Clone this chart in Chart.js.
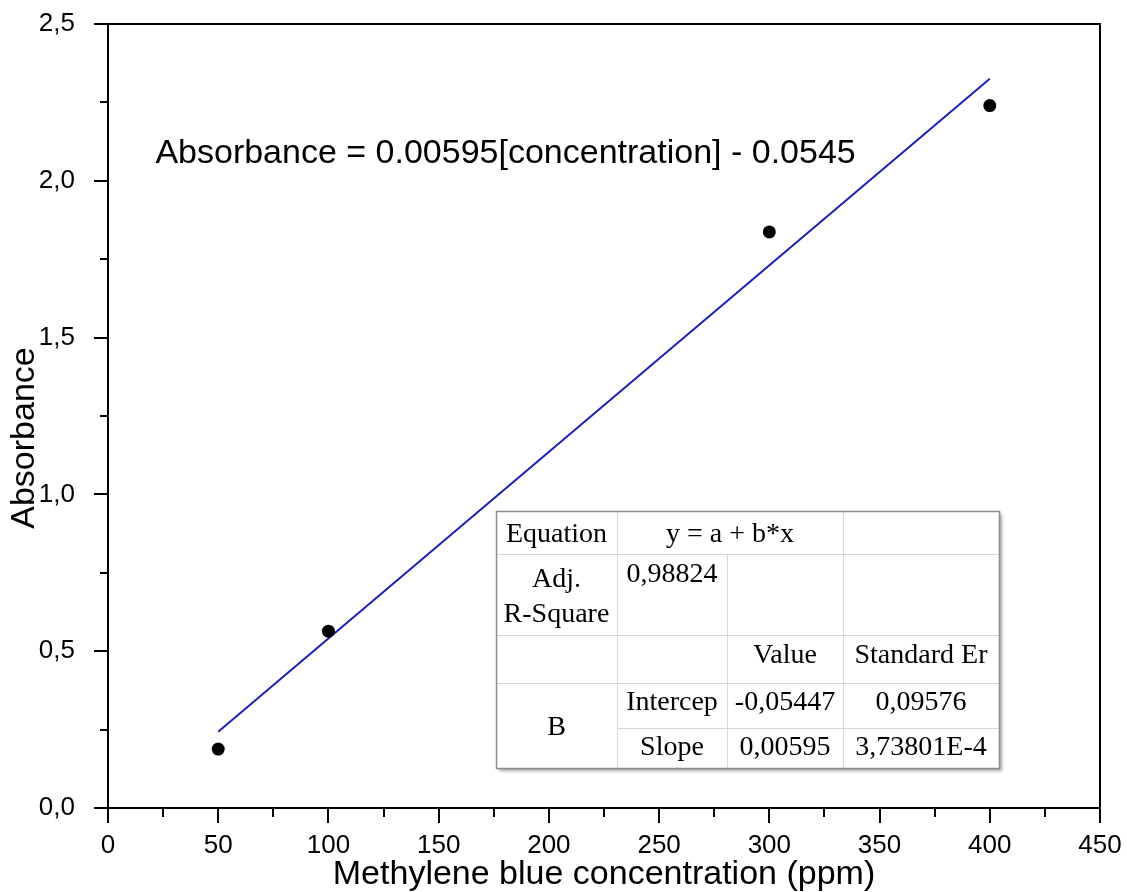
<!DOCTYPE html>
<html>
<head>
<meta charset="utf-8">
<script src="https://cdn.jsdelivr.net/npm/chart.js@4.4.0/dist/chart.umd.min.js"></script>
<style>
  html, body { margin: 0; padding: 0; background: #fff; }
  #wrap { width: 1127px; height: 892px; }
</style>
</head>
<body>
<div id="wrap"><canvas id="canvasOne"></canvas></div>
<script>
// measured calibration points
const concentration = [50, 100, 300, 400];
const absorbance = [0.188, 0.564, 1.837, 2.240];

// linear fit coefficients and the range it is drawn over
const fitSlope = 0.00595;
const fitIntercept = -0.0545;
const fitRange = [50, 400];

const xTickLabels = ['0', '50', '100', '150', '200', '250', '300', '350', '400', '450'];
const yTickLabels = ['0,0', '0,5', '1,0', '1,5', '2,0', '2,5'];

const fitText = 'Absorbance = 0.00595[concentration] - 0.0545';

// fit report table
const statsEquation = 'y = a + b*x';
const statsAdjR2 = '0,98824';
const statsHeader = ['Value', 'Standard Er'];
const statsTerms = ['Intercep', 'Slope'];
const statsValues = ['-0,05447', '0,00595'];
const statsErrors = ['0,09576', '3,73801E-4'];

var points = concentration.map(function(c, i) {
   return { x: c, y: absorbance[i] };
});
var fitLine = fitRange.map(function(c) {
   return { x: c, y: fitIntercept + fitSlope * c };
});

const SANS = '"Liberation Sans", Arial, sans-serif';
const SERIF = '"Liberation Serif", "Times New Roman", serif';

// keep the plot box fixed: no extra room reserved for end labels
function fixBox(scale) {
   scale.paddingLeft = 0;
   scale.paddingRight = 0;
   scale.paddingTop = 0;
   scale.paddingBottom = 0;
}

// frame, outward ticks (major + minor), y title, equation and fit table
var decorations = {
   id: 'decorations',
   afterDraw: function(chart) {
      var ctx = chart.ctx;
      var a = chart.chartArea;
      var xs = chart.scales.x, ys = chart.scales.y;
      ctx.save();

      ctx.strokeStyle = '#000';
      ctx.lineWidth = 2;
      ctx.strokeRect(a.left, a.top, a.right - a.left, a.bottom - a.top);

      ctx.beginPath();
      for (var v = xs.min; v <= xs.max + 1e-9; v += 25) {
         var px = Math.round(xs.getPixelForValue(v));
         var len = (Math.round(v) % 50 === 0) ? 15 : 9;
         ctx.moveTo(px, a.bottom);
         ctx.lineTo(px, a.bottom + len);
      }
      for (var w = ys.min; w <= ys.max + 1e-9; w += 0.25) {
         var py = Math.round(ys.getPixelForValue(w));
         var l2 = (Math.round(w * 100) % 50 === 0) ? 14 : 8;
         ctx.moveTo(a.left, py);
         ctx.lineTo(a.left - l2, py);
      }
      ctx.stroke();

      // y axis title
      ctx.save();
      ctx.translate(25, 438);
      ctx.rotate(-Math.PI / 2);
      ctx.fillStyle = '#000';
      ctx.font = '34px ' + SANS;
      ctx.textAlign = 'center';
      ctx.textBaseline = 'middle';
      ctx.fillText('Absorbance', 0, 0);
      ctx.restore();

      // equation label
      ctx.fillStyle = '#000';
      ctx.font = '34px ' + SANS;
      ctx.textAlign = 'left';
      ctx.textBaseline = 'alphabetic';
      ctx.fillText(fitText, xs.getPixelForValue(21.5), ys.getPixelForValue(2.057));

      // table
      var tx = Math.round(xs.getPixelForValue(176));
      var ty = Math.round(ys.getPixelForValue(0.947));
      var cx = [0, 121, 231, 347, 503].map(function(d) { return tx + d; });
      var ry = [0, 43, 124, 172, 217, 257].map(function(d) { return ty + d; });
      var W = cx[4] - cx[0], H = ry[5] - ry[0];

      ctx.save();
      ctx.shadowColor = 'rgba(0,0,0,0.35)';
      ctx.shadowOffsetX = 3;
      ctx.shadowOffsetY = 3;
      ctx.shadowBlur = 3;
      ctx.fillStyle = '#fff';
      ctx.fillRect(cx[0], ry[0], W, H);
      ctx.restore();

      ctx.strokeStyle = '#d6d6d6';
      ctx.lineWidth = 1;
      ctx.beginPath();
      ctx.moveTo(cx[1] + 0.5, ry[0]); ctx.lineTo(cx[1] + 0.5, ry[5]);
      ctx.moveTo(cx[2] + 0.5, ry[1]); ctx.lineTo(cx[2] + 0.5, ry[5]);
      ctx.moveTo(cx[3] + 0.5, ry[0]); ctx.lineTo(cx[3] + 0.5, ry[5]);
      ctx.moveTo(cx[0], ry[1] + 0.5); ctx.lineTo(cx[4], ry[1] + 0.5);
      ctx.moveTo(cx[0], ry[2] + 0.5); ctx.lineTo(cx[4], ry[2] + 0.5);
      ctx.moveTo(cx[0], ry[3] + 0.5); ctx.lineTo(cx[4], ry[3] + 0.5);
      ctx.moveTo(cx[1], ry[4] + 0.5); ctx.lineTo(cx[4], ry[4] + 0.5);
      ctx.stroke();

      ctx.strokeStyle = '#8c8c8c';
      ctx.lineWidth = 1.5;
      ctx.strokeRect(cx[0] + 0.5, ry[0] + 0.5, W, H);

      ctx.fillStyle = '#000';
      ctx.font = '28px ' + SERIF;
      ctx.textAlign = 'center';
      ctx.textBaseline = 'alphabetic';
      function mid(i, j) { return (cx[i] + cx[j]) / 2; }
      ctx.fillText('Equation', mid(0, 1), ty + 31);
      ctx.fillText(statsEquation, mid(1, 3), ty + 31);
      ctx.fillText('Adj.', mid(0, 1), ty + 76);
      ctx.fillText('R-Square', mid(0, 1), ty + 111);
      ctx.fillText(statsAdjR2, mid(1, 2), ty + 71);
      ctx.fillText(statsHeader[0], mid(2, 3), ty + 152);
      ctx.fillText(statsHeader[1], mid(3, 4), ty + 152);
      ctx.fillText('B', mid(0, 1), ty + 224);
      for (var r = 0; r < 2; r++) {
         var by = ty + (r === 0 ? 199 : 244);
         ctx.fillText(statsTerms[r], mid(1, 2), by);
         ctx.fillText(statsValues[r], mid(2, 3), by);
         ctx.fillText(statsErrors[r], mid(3, 4), by);
      }

      ctx.restore();
   }
};

var ctx = document.getElementById('canvasOne').getContext('2d');
var config = {
   type: 'scatter',
   data: {
      datasets: [{
         label: 'Absorbance',
         data: points,
         backgroundColor: '#000',
         borderWidth: 0,
         pointRadius: 6.5,
         order: 0
      }, {
         type: 'line',
         label: 'Linear fit',
         data: fitLine,
         borderColor: 'rgb(28,28,195)',
         borderWidth: 2,
         pointRadius: 0,
         fill: false,
         order: 1
      }]
   },
   options: {
      responsive: true,
      maintainAspectRatio: false,
      animation: false,
      layout: { padding: { top: 24, right: 27, left: 0, bottom: 0 } },
      plugins: { legend: { display: false }, tooltip: { enabled: false } },
      scales: {
         x: {
            type: 'linear',
            min: 0, max: 450,
            grid: { display: false },
            border: { display: false },
            ticks: {
               stepSize: 50,
               padding: 14,
               color: '#000',
               font: { size: 26, family: SANS },
               callback: function(v) { return xTickLabels[Math.round(v / 50)]; }
            },
            title: {
               display: true,
               text: 'Methylene blue concentration (ppm)',
               color: '#000',
               font: { size: 34, family: SANS, lineHeight: 1.05 },
               padding: 0
            },
            afterFit: function(scale) { scale.height = 84; fixBox(scale); }
         },
         y: {
            min: 0, max: 2.5,
            grid: { display: false },
            border: { display: false },
            ticks: {
               stepSize: 0.5,
               padding: 25,
               color: '#000',
               font: { size: 26, family: SANS },
               callback: function(v) { return yTickLabels[Math.round(v / 0.5)]; }
            },
            afterFit: function(scale) { scale.width = 108; fixBox(scale); }
         }
      }
   },
   plugins: [decorations]
};

var chart = new Chart(ctx, config);
</script>
</body>
</html>
